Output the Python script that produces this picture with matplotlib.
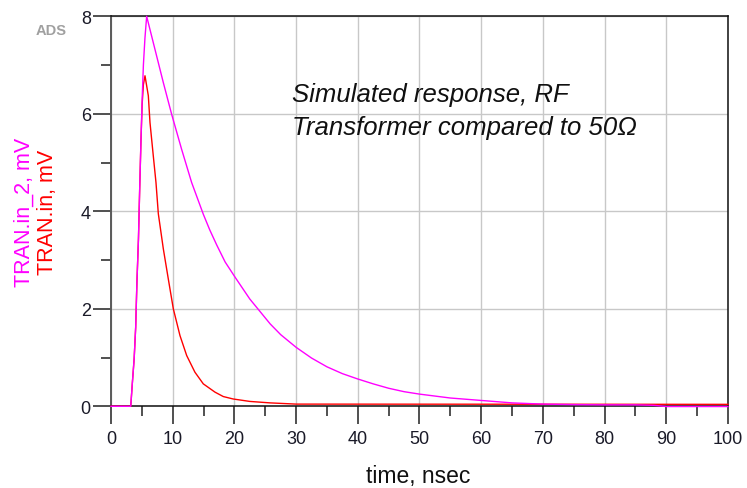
import matplotlib
matplotlib.use("Agg")
import matplotlib.pyplot as plt
from matplotlib.ticker import MultipleLocator

plt.rcParams['font.family'] = ['Liberation Sans', 'DejaVu Sans']

# TRAN.in_2 (magenta): time in ns, voltage in mV
t_in2 = [0, 3.2, 3.45, 3.75, 4.0, 4.2, 4.45, 4.65, 4.85, 5.05, 5.25, 5.5, 5.78,
         7.13, 8.48, 9.83, 11.45, 13.07, 14.96, 16.0, 17.13, 18.5, 20.1, 22.5,
         25.8, 27.5, 30, 32.5, 35, 37.5, 40, 42.5, 45, 47.5, 50, 55, 60, 65, 70,
         75, 80, 85, 88, 90, 100]
v_in2 = [0, 0, 0.46, 0.97, 1.62, 2.54, 3.43, 4.46, 5.42, 6.30, 7.0, 7.55, 8.0,
         7.32, 6.64, 5.99, 5.27, 4.59, 3.94, 3.62, 3.31, 2.96, 2.65, 2.20,
         1.69, 1.47, 1.21, 0.99, 0.81, 0.67, 0.56, 0.46, 0.37, 0.30, 0.25, 0.17,
         0.12, 0.07, 0.045, 0.035, 0.03, 0.03, 0.02, -0.005, -0.005]

# TRAN.in (red): time in ns, voltage in mV
t_in = [0, 3.2, 3.45, 3.75, 4.0, 4.2, 4.45, 4.65, 4.85, 5.05, 5.25, 5.51, 6.05,
        6.32, 6.86, 7.29, 7.67, 8.48, 9.29, 10.1, 11.18, 12.27, 13.6, 14.96,
        16.86, 18.2, 19.8, 22.5, 25.8, 30, 100]
v_in = [0, 0, 0.46, 0.97, 1.62, 2.54, 3.43, 4.46, 5.42, 6.2, 6.6, 6.78, 6.37,
        5.82, 5.13, 4.59, 3.95, 3.23, 2.61, 2.0, 1.45, 1.04, 0.70, 0.46,
        0.29, 0.20, 0.15, 0.10, 0.07, 0.045, 0.04]

x_ticks = [0, 10, 20, 30, 40, 50, 60, 70, 80, 90, 100]
y_ticks = [0, 2, 4, 6, 8]

fig = plt.figure(figsize=(7.47, 4.89), dpi=100)
ax = fig.add_axes([111 / 747, 1 - 407.3 / 489, 617 / 747, 390 / 489])

ax.plot(t_in, v_in, color='#ff0000', lw=1.0, zorder=4, clip_on=False)
ax.plot(t_in2, v_in2, color='#ff00ff', lw=1.0, zorder=4, clip_on=False)

ax.set_xlim(0, 100)
ax.set_ylim(0, 8)
ax.set_xticks(x_ticks)
ax.set_yticks(y_ticks)
ax.xaxis.set_minor_locator(MultipleLocator(5))
ax.yaxis.set_minor_locator(MultipleLocator(1))
ax.tick_params(which='major', length=13, width=1.1, color='#202020',
               labelsize=13, labelcolor='#1a1a28')
ax.tick_params(axis='x', which='major', pad=4)
ax.tick_params(axis='y', which='major', pad=1.5)
ax.tick_params(which='minor', length=7, width=1.1, color='#202020')

ax.grid(True, which='major', color='#c8c8c8', lw=1.0, zorder=0)
ax.set_axisbelow(True)

for side in ['top', 'right', 'bottom']:
    ax.spines[side].set_color('#101010')
    ax.spines[side].set_linewidth(1.1)
ax.spines['left'].set_color('#5a5a5a')
ax.spines['left'].set_linewidth(1.4)

fig.text(418 / 747, 1 - 483 / 489, 'time, nsec', ha='center', va='baseline',
         fontsize=16.5, color='#101010')

fig.text(24 / 747, 1 - 212 / 489, 'TRAN.in_2, mV', rotation=90, ha='center',
         va='center', fontsize=15.5, color='#ff00ff')
fig.text(47 / 747, 1 - 212 / 489, 'TRAN.in, mV', rotation=90, ha='center',
         va='center', fontsize=15.5, color='#ff0000')

fig.text(292 / 747, 1 - 101.7 / 489, 'Simulated response, RF', ha='left',
         va='baseline', fontsize=18.5, style='italic', color='#101010')
fig.text(292 / 747, 1 - 135 / 489, 'Transformer compared to 50\u03a9', ha='left',
         va='baseline', fontsize=18.5, style='italic', color='#101010')

fig.text(51 / 747, 1 - 35 / 489, 'ADS', ha='center', va='baseline',
         fontsize=10.5, fontweight='bold', color='#a0a0a0')

fig.savefig('out.png', dpi=100)
